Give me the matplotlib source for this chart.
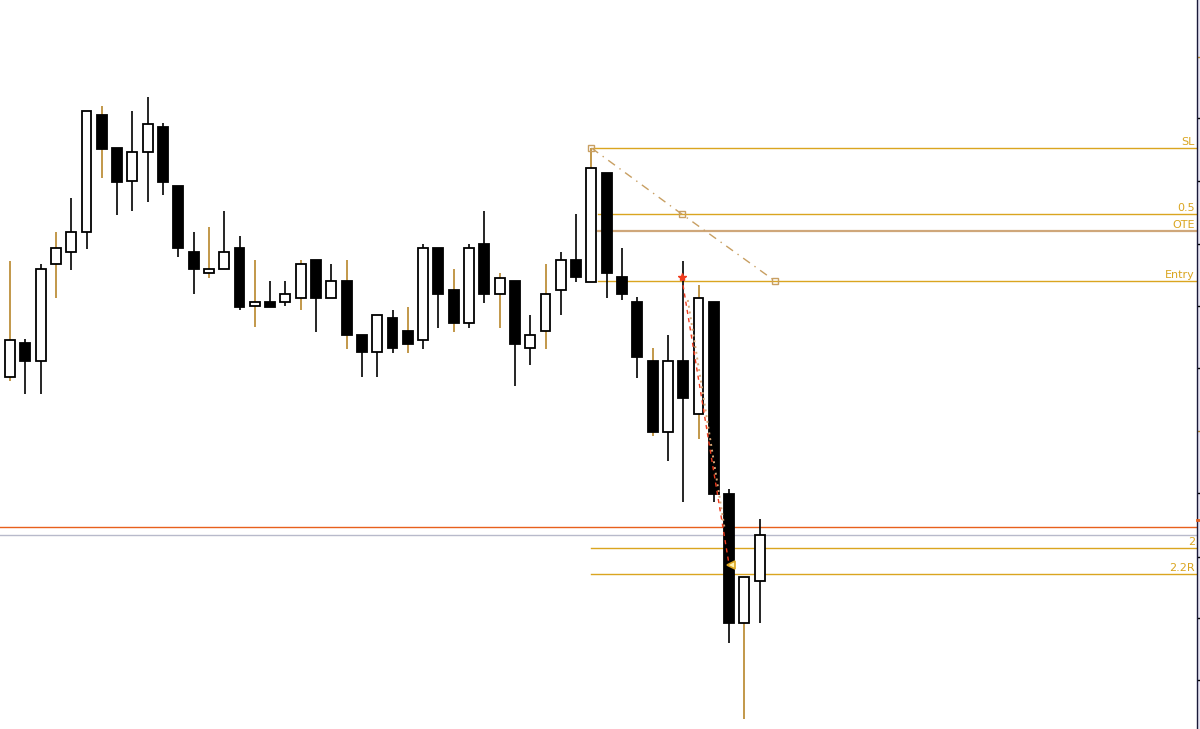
import numpy as np
import matplotlib
matplotlib.use("Agg")
import matplotlib.pyplot as plt
from matplotlib.patches import Rectangle

# OHLC (price units, 5 digits)
opens = [1.08352, 1.08386, 1.08368, 1.08465, 1.08477, 1.08497, 1.08614, 1.08581, 1.08548, 1.08577,
         1.08602, 1.08543, 1.08477, 1.08456, 1.08460, 1.08481, 1.08423, 1.08427, 1.08427, 1.08431,
         1.08469, 1.08431, 1.08448, 1.08394, 1.08377, 1.08411, 1.08398, 1.08389, 1.08481, 1.08439,
         1.08406, 1.08485, 1.08435, 1.08448, 1.08381, 1.08398, 1.08439, 1.08469, 1.08447, 1.08556,
         1.08452, 1.08427, 1.08368, 1.08297, 1.08368, 1.08315, 1.08427, 1.08235, 1.08106, 1.08148]
highs = [1.08468, 1.08390, 1.08465, 1.08497, 1.08531, 1.08618, 1.08623, 1.08581, 1.08618, 1.08632,
         1.08606, 1.08543, 1.08497, 1.08502, 1.08518, 1.08493, 1.08469, 1.08448, 1.08448, 1.08469,
         1.08469, 1.08465, 1.08469, 1.08394, 1.08414, 1.08419, 1.08422, 1.08485, 1.08481, 1.08460,
         1.08485, 1.08518, 1.08456, 1.08448, 1.08414, 1.08465, 1.08477, 1.08515, 1.08581, 1.08556,
         1.08481, 1.08432, 1.08381, 1.08394, 1.08468, 1.08444, 1.08427, 1.08240, 1.08152, 1.08210]
lows = [1.08348, 1.08335, 1.08335, 1.08431, 1.08459, 1.08480, 1.08551, 1.08514, 1.08518, 1.08527,
        1.08534, 1.08472, 1.08435, 1.08451, 1.08460, 1.08419, 1.08402, 1.08422, 1.08423, 1.08419,
        1.08397, 1.08431, 1.08380, 1.08352, 1.08352, 1.08376, 1.08376, 1.08380, 1.08401, 1.08397,
        1.08401, 1.08426, 1.08401, 1.08343, 1.08364, 1.08380, 1.08414, 1.08447, 1.08447, 1.08431,
        1.08429, 1.08351, 1.08293, 1.08268, 1.08227, 1.08290, 1.08227, 1.08086, 1.08010, 1.08106]
closes = [1.08389, 1.08368, 1.08460, 1.08481, 1.08497, 1.08618, 1.08580, 1.08547, 1.08577, 1.08605,
          1.08547, 1.08481, 1.08460, 1.08460, 1.08477, 1.08422, 1.08427, 1.08422, 1.08435, 1.08465,
          1.08431, 1.08448, 1.08394, 1.08377, 1.08414, 1.08381, 1.08385, 1.08481, 1.08435, 1.08406,
          1.08481, 1.08435, 1.08451, 1.08385, 1.08394, 1.08435, 1.08469, 1.08452, 1.08561, 1.08456,
          1.08435, 1.08372, 1.08297, 1.08368, 1.08331, 1.08431, 1.08235, 1.08106, 1.08152, 1.08194]
gold_wick = [0, 3, 6, 13, 16, 19, 22, 26, 29, 32, 35, 38, 42, 45, 48]

# trade levels: (label, price, start bar)
levels = [("SL", 1.08581, 38.1), ("0.5", 1.08515, 38.4), ("OTE", 1.08498, 38.4),
          ("Entry", 1.08448, 38.4), ("2", 1.08181, 38.0), ("2.2R", 1.08155, 38.0)]
bid_price = 1.08202
ask_price = 1.08194

fib_x = [38.0, 43.9, 50.0]
fib_y = [1.08581, 1.08515, 1.08448]
trade_x = [43.9, 47.0]
trade_y = [1.08452, 1.08164]
trail_x = [44.3, 46.7]
trail_y = [1.08429, 1.08201]

axis_ticks = [1.08672, 1.08611, 1.08548, 1.08485, 1.08423, 1.08361, 1.08298,
              1.08236, 1.08172, 1.08111, 1.08049]
gold_ticks = [1.08672, 1.08298]
alert_price = 1.08209

GOLD = "#DAA520"
WICK_GOLD = "#B8862B"
TAN = "#C89F62"

fig = plt.figure(figsize=(12, 7.29), dpi=100)
fig.patch.set_facecolor("white")
fig.add_artist(Rectangle((0.9975, 0), 0.0025, 1, transform=fig.transFigure,
                         facecolor="#E6E4F2", edgecolor="none", zorder=-5))
ax = fig.add_axes([0, 0, 0.9975, 1])
ax.set_xlim(-0.654, 77.58)
ax.set_ylim(1.08000, 1.08729)
ax.patch.set_alpha(0)

x = np.arange(len(opens))
o = np.array(opens); c = np.array(closes)
wick_colors = [WICK_GOLD if i in gold_wick else "black" for i in x]
ax.vlines(x, lows, highs, colors=wick_colors, linewidth=1.2, zorder=2)

bull = c >= o
body_lo = np.minimum(o, c)
body_h = np.maximum(np.abs(c - o), 0.00003)
ax.bar(x[bull], body_h[bull], bottom=body_lo[bull], width=0.65,
       facecolor="white", edgecolor="black", linewidth=1.3, zorder=3)
ax.bar(x[~bull], body_h[~bull], bottom=body_lo[~bull], width=0.65,
       facecolor="black", edgecolor="black", linewidth=1.3, zorder=3)

# horizontal trade levels with labels on the right
for name, price, x0 in levels:
    col = "#CFA77A" if name == "OTE" else GOLD
    lw = 1.6 if name == "OTE" else 1.0
    ax.plot([x0, 77.58], [price, price], color=col, linewidth=lw, zorder=1)
    ax.annotate(name, xy=(77.45, price), xytext=(0, 1), textcoords="offset points",
                ha="right", va="bottom", color=GOLD, fontsize=8, zorder=5)

ax.axhline(bid_price, color="#E8601C", linewidth=1.0, zorder=1)
ax.axhline(ask_price, color="#B8BACB", linewidth=1.0, zorder=1)

# fib / projection markers
ax.plot(fib_x, fib_y, color=TAN, linewidth=1.0, linestyle=(0, (6, 4, 1, 4)), zorder=4)
ax.plot(fib_x, fib_y, linestyle="none", marker="s", markersize=4,
        markerfacecolor="none", markeredgecolor=TAN, zorder=4)

ax.plot(trail_x, trail_y, color="#D9A878", linewidth=1.4, linestyle=(0, (1, 2)), zorder=4)
ax.plot(trade_x, trade_y, color="#F03C1E", linewidth=1.0, linestyle=(0, (3, 3)), zorder=5)
ax.plot(trade_x[0], trade_y[0], marker="*", markersize=6, color="#F03C1E", zorder=6)
ax.plot(47.15, 1.08164, marker="<", markersize=6, markerfacecolor="#FFF2B0",
        markeredgecolor=GOLD, markeredgewidth=1.2, zorder=6)

# price axis: right spine with bare ticks
for side in ("top", "left", "bottom"):
    ax.spines[side].set_visible(False)
ax.spines["right"].set_color("#1A1A3A")
ax.spines["right"].set_linewidth(1.0)
ax.set_xticks([])
ax.yaxis.tick_right()
ax.set_yticks(axis_ticks)
ax.tick_params(axis="y", direction="out", length=3, width=1, color="black",
               labelright=False)
for t, val in zip(ax.yaxis.get_major_ticks(), axis_ticks):
    if val in gold_ticks:
        t.tick2line.set_markeredgecolor(WICK_GOLD)

# small red alert mark on the price scale
ax.plot([1.0, 1.0025], [alert_price, alert_price], transform=ax.get_yaxis_transform(),
        color="#E8601C", linewidth=2, clip_on=False, zorder=6)

fig.savefig("out.png", dpi=100)
